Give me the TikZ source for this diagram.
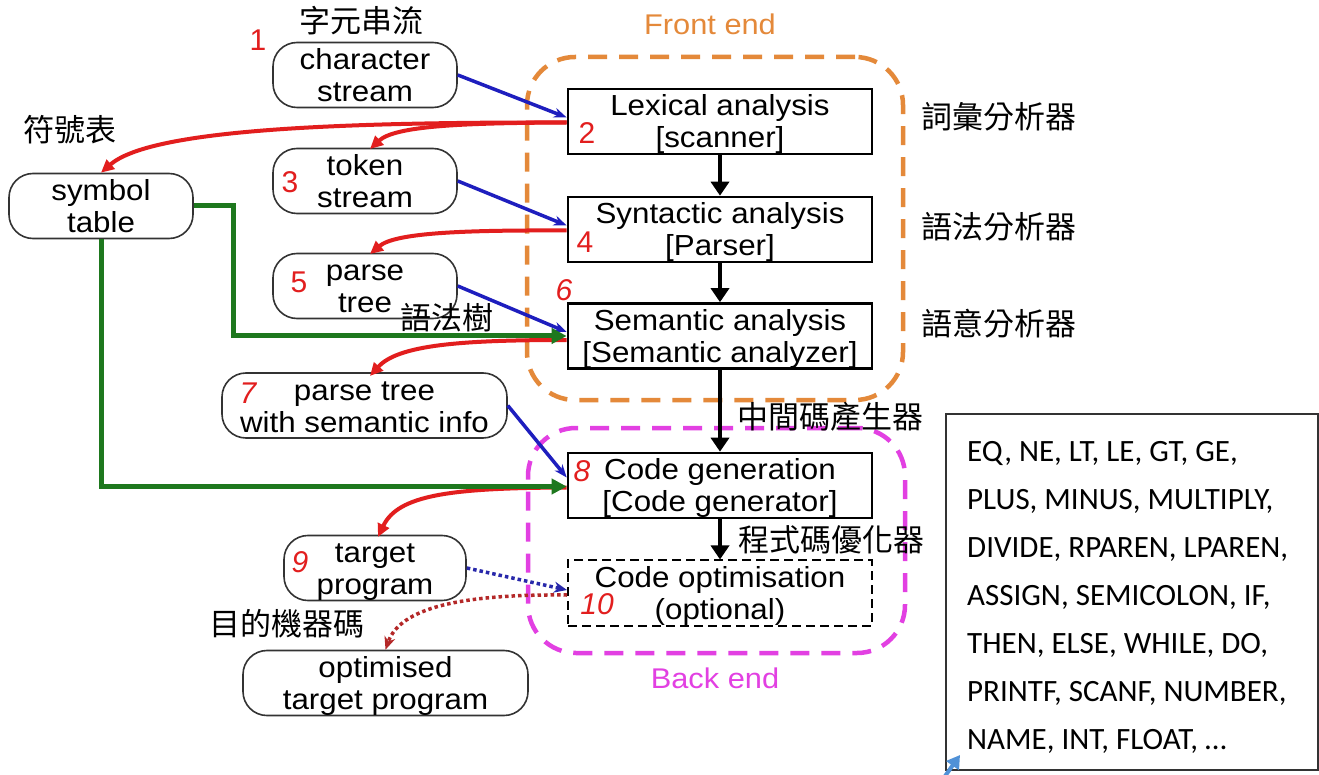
\documentclass[tikz,border=0pt]{standalone}
\usepackage{fontspec}
\setmainfont{Liberation Sans}
\newfontfamily\boxfont[FakeStretch=1.08]{Liberation Sans}
\newfontfamily\numfont{Liberation Sans}
\newfontfamily\cjkfont{Noto Sans CJK TC}
\newfontfamily\listfont{Carlito}
\usetikzlibrary{arrows.meta}

\definecolor{feorange}{RGB}{228,137,58}
\definecolor{bemagenta}{RGB}{226,64,226}
\definecolor{flowred}{RGB}{226,30,30}
\definecolor{flowblue}{RGB}{30,30,190}
\definecolor{flowgreen}{RGB}{30,120,30}
\definecolor{dotblue}{RGB}{40,40,170}
\definecolor{dotred}{RGB}{180,40,40}
\definecolor{ptrblue}{RGB}{80,145,215}

% struts that fix the height of the first line and the depth of the last
\newcommand{\firstln}{\rule{0pt}{27pt}}
\newcommand{\lastln}{\rule[-6pt]{0pt}{6pt}}

\tikzset{
  datastore/.style={draw=black!80, line width=1.6pt, rounded corners=24pt,
    inner sep=0pt, align=center, font=\boxfont\fontsize{29}{32}\selectfont},
  phase/.style={draw=black, line width=2.6pt, minimum width=304pt,
    inner sep=0pt, align=center, font=\boxfont\fontsize{29}{32}\selectfont},
  stepnum/.style={text=flowred, inner sep=0pt, font=\numfont\fontsize{30}{30}\selectfont},
  stepnumit/.style={stepnum, font=\numfont\itshape\fontsize{30}{30}\selectfont},
  cjklabel/.style={inner sep=0pt, font=\cjkfont\fontsize{31}{31}\selectfont},
  regionbox/.style={line width=4.5pt, dash pattern=on 19pt off 12pt, rounded corners=48pt},
  regionlabel/.style={inner sep=0pt, font=\boxfont\fontsize{28.5}{28.5}\selectfont},
  redflow/.style={draw=flowred, line width=4pt, -{Triangle[length=13pt,width=12pt]}},
  blueflow/.style={draw=flowblue, line width=3.5pt, -{Stealth[length=13pt,width=10pt]}},
  greenflow/.style={draw=flowgreen, line width=5pt, -{Triangle[length=15pt,width=15pt]}},
  blackflow/.style={draw=black, line width=4pt, -{Triangle[length=14pt,width=18pt]}},
  dotflow/.style={line width=3.5pt, dash pattern=on 3.5pt off 3pt, -{Stealth[length=13pt,width=11pt]}},
}

\begin{document}
\begin{tikzpicture}[x=1pt,y=-1pt]
\useasboundingbox (0,0) rectangle (1319,775);
\fill[white] (0,0) rectangle (1319,775);

% front end / back end regions
\node[regionbox, draw=feorange, minimum width=376pt, minimum height=343pt] (frontend) at (715,228.5) {};
\node[regionlabel, text=feorange] (frontlbl) at (710,24) {Front end};
\node[regionbox, draw=bemagenta, minimum width=377pt, minimum height=225pt] (backend) at (716.5,540.5) {};
\node[regionlabel, text=bemagenta] (backlbl) at (715,678) {Back end};

% data produced along the way
\node[datastore, minimum width=184pt, minimum height=63pt] (char) at (365,75) {\firstln character\\stream\lastln};
\node[datastore, minimum width=184pt, minimum height=63pt] (tok) at (365,181) {\firstln token\\stream\lastln};
\node[datastore, minimum width=184pt, minimum height=62pt] (sym) at (101,206) {\firstln symbol\\table\lastln};
\node[datastore, minimum width=184pt, minimum height=63pt] (pt) at (365,286) {\firstln parse\\tree\lastln};
\node[datastore, minimum width=285pt, minimum height=59pt] (ptinfo) at (364.5,405.5) {\firstln parse tree\\with semantic info\lastln};
\node[datastore, minimum width=182pt, minimum height=61pt] (tp) at (375,568) {\firstln target\\program\lastln};
\node[datastore, minimum width=285pt, minimum height=60pt] (opt) at (385.5,683) {\firstln optimised\\target program\lastln};

% compiler phases
\node[phase, minimum height=64pt] (lex) at (720,121.5) {\firstln Lexical analysis\\{}[scanner]\lastln};
\node[phase, minimum height=63pt] (syn) at (720,229.5) {\firstln Syntactic analysis\\{}[Parser]\lastln};
\node[phase, minimum height=64pt] (sem) at (720,336) {\firstln Semantic analysis\\{}[Semantic analyzer]\lastln};
\node[phase, minimum height=63pt] (cg) at (720,485.5) {\firstln Code generation\\{}[Code generator]\lastln};
\node[phase, minimum height=62pt, line width=2pt, dash pattern=on 9pt off 5pt] (co) at (720,593) {\firstln Code optimisation\\(optional)\lastln};

% step numbers
\node[stepnum] (n1) at (258,40) {1};
\node[stepnum] (n2) at (587,133) {2};
\node[stepnum] (n3) at (290,182) {3};
\node[stepnum] (n4) at (585,242) {4};
\node[stepnum] (n5) at (299,282) {5};
\node[stepnumit] (n6) at (564,290) {6};
\node[stepnumit] (n7) at (248,393) {7};
\node[stepnumit] (n8) at (582,471) {8};
\node[stepnumit] (n9) at (300,562) {9};
\node[stepnumit] (n10) at (597,604) {10};

% Chinese annotations
\node[cjklabel] (zh1) at (361,21) {字元串流};
\node[cjklabel] (zh2) at (70,130) {符號表};
\node[cjklabel] (zh3) at (999,117) {詞彙分析器};
\node[cjklabel] (zh4) at (999,227) {語法分析器};
\node[cjklabel] (zh5) at (999,324) {語意分析器};
\node[cjklabel] (zh6) at (447,318) {語法樹};
\node[cjklabel] (zh7) at (830,417) {中間碼產生器};
\node[cjklabel] (zh8) at (831,540) {程式碼優化器};
\node[cjklabel] (zh9) at (287,624) {目的機器碼};

% inputs to each phase
\draw[blueflow] (char.east) -- ([yshift=4pt]lex.west);
\draw[blueflow] (tok.east) -- ([yshift=4pt]syn.west);
\draw[blueflow] (pt.east) -- ([yshift=4pt]sem.west);
\draw[blueflow] (ptinfo.east) -- ([yshift=8pt]cg.west);

% outputs of each phase
\draw[redflow] ([yshift=-1pt]lex.west) .. controls (330,122) and (150,130) .. (sym.north);
\draw[redflow] ([yshift=-1pt]lex.west) .. controls (460,123) and (395,126) .. (370,149);
\draw[redflow] ([yshift=-1pt]syn.west) .. controls (460,230) and (395,233) .. (370,254);
\draw[redflow] ([yshift=-4pt]sem.west) .. controls (460,340) and (398,345) .. (370,376);
\draw[redflow] ([yshift=-2pt]cg.west) .. controls (450,488) and (398,495) .. (378,537);

% symbol table lookups
\draw[greenflow] (sym.east) -- ++(40,0) |- (sem.west);
\draw[greenflow] (sym.south) |- ([yshift=-1pt]cg.west);

% phase sequence
\draw[blackflow] (lex.south) -- (syn.north);
\draw[blackflow] (syn.south) -- (sem.north);
\draw[blackflow] (sem.south) -- (cg.north);
\draw[blackflow] (cg.south) -- (co.north);

% optional optimisation
\draw[dotflow, draw=dotblue] (tp.east) -- ([yshift=3pt]co.west);
\draw[dotflow, draw=dotred] ([yshift=-2pt]co.west) .. controls (460,594) and (400,608) .. (opt.north);

% token list
\node[draw=black!80, line width=1.2pt, minimum width=372pt, minimum height=356pt, inner sep=0pt] (tokbox) at (1132,592) {};
\node[anchor=north west, align=left, inner sep=0pt, font=\listfont\fontsize{31}{48}\selectfont] (toklist) at (967,441)
  {EQ, NE, LT, LE, GT, GE,\\PLUS, MINUS, MULTIPLY,\\DIVIDE, RPAREN, LPAREN,\\ASSIGN, SEMICOLON, IF,\\THEN, ELSE, WHILE, DO,\\PRINTF, SCANF, NUMBER,\\NAME, INT, FLOAT, \dots};

\coordinate (ptrtail) at (943,779);
\coordinate (ptrtip) at (960,755);
\draw[draw=ptrblue, line width=4pt, -{Triangle[length=13pt,width=15pt]}] (ptrtail) -- (ptrtip);
\end{tikzpicture}
\end{document}
